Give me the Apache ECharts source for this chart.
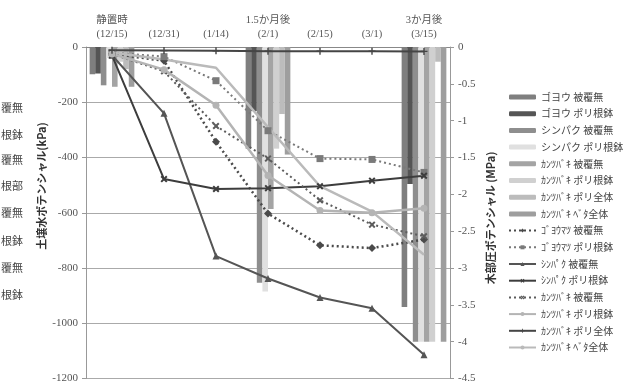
<!DOCTYPE html>
<html>
<head>
<meta charset="utf-8">
<script src="https://cdn.jsdelivr.net/npm/echarts@6/dist/echarts.min.js"></script>
<style>
html, body { margin: 0; padding: 0; background: #fff; }
#main { width: 624px; height: 384px; }
</style>
</head>
<body>
<div id="main"></div>
<script>
// 日付カテゴリ
const dates = ['(12/15)', '(12/31)', '(1/14)', '(2/1)', '(2/15)', '(3/1)', '(3/15)'];
const periods = ['静置時', '', '', '1.5か月後', '', '', '3か月後'];

// 木部圧ポテンシャル (MPa) 静置時・1.5か月後・3か月後
const barDays = [0, 3, 6];
const barNames = ['ゴヨウ 被覆無', 'ゴヨウ ポリ根鉢', 'シンパク 被覆無', 'シンパク ポリ根鉢',
    'ｶﾝﾂﾊﾞｷ 被覆無', 'ｶﾝﾂﾊﾞｷ ポリ根鉢', 'ｶﾝﾂﾊﾞｷ ポリ全体', 'ｶﾝﾂﾊﾞｷ ﾍﾞﾀ全体'];
const gyNoCover = [-0.37, -1.38, -3.53];
const gyPoly = [-0.36, -0.87, -1.86];
const spNoCover = [-0.52, -3.2, -4.0];
const spPoly = [-0.15, -3.32, -4.0];
const kbNoCover = [-0.54, -2.2, -4.0];
const kbPoly = [-0.2, -1.38, -4.0];
const kbPolyAll = [-0.3, -0.91, -0.2];
const kbBetaAll = [-0.54, -1.46, -4.0];

// 土壌水ポテンシャル (kPa)
const lineNames = ['ｺﾞﾖｳﾏﾂ 被覆無', 'ｺﾞﾖｳﾏﾂ ポリ根鉢', 'ｼﾝﾊﾟｸ 被覆無', 'ｼﾝﾊﾟｸ ポリ根鉢',
    'ｶﾝﾂﾊﾞｷ 被覆無\u200b', 'ｶﾝﾂﾊﾞｷ ポリ根鉢\u200b', 'ｶﾝﾂﾊﾞｷ ポリ全体\u200b', 'ｶﾝﾂﾊﾞｷ ﾍﾞﾀ全体\u200b'];
const goyoNo = [-25, -50, -343, -603, -718, -728, -697];
const goyoPoly = [-20, -35, -122, -303, -404, -407, -454];
const shinNo = [-30, -240, -757, -838, -907, -946, -1114];
const shinPoly = [-30, -478, -514, -511, -504, -484, -466];
const kanNo = [-25, -88, -286, -404, -555, -643, -685];
const kanPoly = [-25, -82, -211, -465, -592, -600, -584];
const kanPolyAll = [-12, -13, -14, -15, -15, -15, -16];
const kanBeta = [-20, -45, -75, -290, -504, -596, -752];

// 左端で切れている別図の凡例
const cutLegend = ['覆無', '根鉢', '覆無', '根部', '覆無', '根鉢', '覆無', '根鉢'];
const cutLegendY = [108, 135, 160, 186, 213, 241, 268, 295];

const serif = "'Liberation Serif', 'Noto Sans CJK JP', serif";
const cross = 'path://M2,0 L5,3 L8,0 L10,2 L7,5 L10,8 L8,10 L5,7 L2,10 L0,8 L3,5 L0,2 Z';
const plus = 'path://M4,0 H6 V4 H10 V6 H6 V10 H4 V6 H0 V4 H4 Z';

const toCats = (vals) => {
    const out = dates.map(() => '-');
    barDays.forEach((d, i) => { out[d] = vals[i]; });
    return out;
};

const barVals = [gyNoCover, gyPoly, spNoCover, spPoly, kbNoCover, kbPoly, kbPolyAll, kbBetaAll];
const barColors = ['#7f7f7f', '#555555', '#8e8e8e', '#e0e0e0', '#a4a4a4', '#d0d0d0', '#bcbcbc', '#9e9e9e'];

const barSeries = barVals.map((v, i) => ({
    name: barNames[i],
    type: 'bar',
    yAxisIndex: 1,
    barGap: '0%',
    barCategoryGap: '14%',
    itemStyle: { color: barColors[i] },
    data: toCats(v),
    z: 1
}));

const lineDefs = [
    { data: goyoNo, color: '#4a4a4a', type: [2, 3], symbol: 'diamond', size: 8, width: 2.5 },
    { data: goyoPoly, color: '#7a7a7a', type: [2, 3], symbol: 'rect', size: 7, width: 2 },
    { data: shinNo, color: '#555555', type: 'solid', symbol: 'triangle', size: 7, width: 2 },
    { data: shinPoly, color: '#3d3d3d', type: 'solid', symbol: cross, size: 7, width: 2 },
    { data: kanNo, color: '#5c5c5c', type: [2, 3], symbol: cross, size: 7, width: 2 },
    { data: kanPoly, color: '#b4b4b4', type: 'solid', symbol: 'circle', size: 7, width: 2.5 },
    { data: kanPolyAll, color: '#454545', type: 'solid', symbol: plus, size: 7, width: 2 },
    { data: kanBeta, color: '#bababa', type: 'solid', symbol: 'none', size: 0, width: 2.5 }
];

const lineSeries = lineDefs.map((d, i) => ({
    name: lineNames[i],
    type: 'line',
    yAxisIndex: 0,
    data: d.data,
    symbol: d.symbol,
    symbolSize: d.size,
    showSymbol: d.symbol !== 'none',
    lineStyle: { color: d.color, width: d.width, type: d.type },
    itemStyle: { color: d.color },
    z: 3
}));

const graphics = [
    {
        type: 'text', x: 42, y: 186, rotation: Math.PI / 2,
        style: { text: '土壌水ポテンシャル(kPa)', font: "bold 11px 'Noto Sans CJK JP'", fill: '#333', align: 'center', verticalAlign: 'middle' }
    },
    {
        type: 'text', x: 491, y: 218, rotation: Math.PI / 2,
        style: { text: '木部圧ポテンシャル (MPa)', font: "bold 11px 'Noto Sans CJK JP'", fill: '#333', align: 'center', verticalAlign: 'middle' }
    }
];
cutLegend.forEach((t, i) => {
    graphics.push({
        type: 'text', x: 1, y: cutLegendY[i],
        style: { text: t, font: "11px 'Noto Sans CJK JP'", fill: '#444', align: 'left', verticalAlign: 'middle' }
    });
});

const chart = echarts.init(document.getElementById('main'));
const option = {
    animation: false,
    backgroundColor: '#fff',
    grid: { left: 86, right: 174, top: 47, bottom: 1 },
    legend: {
        orient: 'vertical',
        left: 503,
        top: 86,
        itemWidth: 27,
        itemHeight: 5,
        itemGap: 4.7,
        textStyle: { fontSize: 10, lineHeight: 12, color: '#444', fontFamily: "'Noto Sans CJK JP'" },
        data: barNames.concat(lineNames)
    },
    xAxis: {
        type: 'category',
        position: 'top',
        data: dates.map((d, i) => periods[i] + '\n' + d),
        axisLine: { lineStyle: { color: '#888' } },
        axisTick: { show: false },
        axisLabel: { margin: 6, color: '#555', fontSize: 10.5, lineHeight: 14, fontFamily: serif, interval: 0 }
    },
    yAxis: [
        {
            type: 'value',
            min: -1200,
            max: 0,
            interval: 200,
            axisLine: { show: true, lineStyle: { color: '#999' } },
            axisTick: { show: true, length: 4, lineStyle: { color: '#999' } },
            axisLabel: { color: '#555', fontSize: 11, fontFamily: serif, margin: 8, formatter: (v) => String(v) },
            splitLine: { lineStyle: { color: '#aaa' } }
        },
        {
            type: 'value',
            min: -4.5,
            max: 0,
            interval: 0.5,
            position: 'right',
            axisLine: { show: true, lineStyle: { color: '#999' } },
            axisTick: { show: true, length: 4, lineStyle: { color: '#999' } },
            axisLabel: { color: '#555', fontSize: 11, fontFamily: serif, margin: 8 },
            splitLine: { show: false }
        }
    ],
    graphic: graphics,
    series: barSeries.concat(lineSeries)
};
chart.setOption(option);
</script>
</body>
</html>
